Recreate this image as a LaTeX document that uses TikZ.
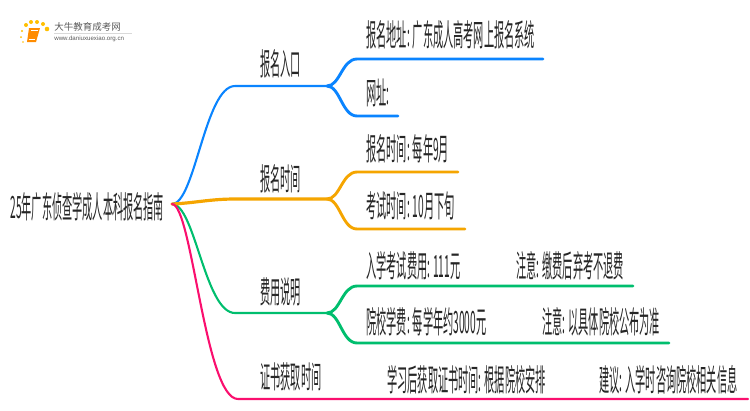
\documentclass[tikz,border=0pt]{standalone}
\usepackage{fontspec}
\usepackage{xcolor}
\usetikzlibrary{positioning, calc}
\newfontfamily\cjknarrow[FakeStretch=0.331]{Noto Sans CJK SC}
\newfontfamily\cjklogo{Noto Sans CJK SC}
\setsansfont{Liberation Sans}
\definecolor{bluebranch}{HTML}{0A84FF}
\definecolor{orangebranch}{HTML}{F5A500}
\definecolor{greenbranch}{HTML}{00BE6E}
\definecolor{pinkbranch}{HTML}{FA0F6E}
\tikzset{
  topic/.style={anchor=west, inner sep=0pt, text=black!85, font=\fontsize{17.5}{18}\cjknarrow},
  branch/.style={line width=2.9*0.5669pt, line cap=round},
  thinbranch/.style={line width=2.1*0.5669pt, line cap=round},
  logotext/.style={anchor=west, inner sep=0pt, text=black!65},
}
\begin{document}
\begin{tikzpicture}[x=0.02cm, y=-0.02cm]
  \useasboundingbox (0,0) rectangle (750,410);

  % Logo
  \foreach \dotx/\doty/\dotr in {26/25/2, 31/22/2, 37/22/2, 43/24/2, 47/29/2.3, 22/31/1.2, 21/37/1, 23/42/0.8}
    \fill[orange!50!yellow] (\dotx,\doty) circle (\dotr);
  \fill[orange!90!yellow] (29,28) -- (40,28) -- (36,42) -- (27,42) -- cycle;
  \draw[white, line width=0.3pt] (31,30) -- (38,30) (28.5,39.5) -- (35,39.5);
  \node[logotext, font=\fontsize{5.4}{6}\cjklogo] (logoname) at (54,27) {大牛教育成考网};
  \node[logotext, font=\fontsize{3.5}{4}\sffamily] (logourl) at (54,38.5) {www.daniuxuexiao.org.cn};
  \draw[black!15, line width=0.3pt] (54,33) -- (132,33);

  % Topics
  \node[topic] (root) at (10,207) {25年广东侦查学成人本科报名指南};
  \node[topic] (entry) at (260,64) {报名入口};
  \node[topic] (signup) at (260,179) {报名时间};
  \node[topic] (fees) at (260,292) {费用说明};
  \node[topic] (cert) at (260,377) {证书获取时间};

  % Leaves
  \node[topic] (entrysys) at (366,35) {报名地址: 广东成人高考网上报名系统};
  \node[topic] (entryurl) at (366,93) {网址:};
  \node[topic] (signupmonth) at (366,149) {报名时间: 每年9月};
  \node[topic] (signupexam) at (366,206) {考试时间: 10月下旬};
  \node[topic] (feeexam) at (366,266) {入学考试费用: 111元};
  \node[topic] (feeexamnote) at (516,266) {注意: 缴费后弃考不退费};
  \node[topic] (feeyear) at (366,322) {院校学费: 每学年约3000元};
  \node[topic] (feeyearnote) at (542,322) {注意: 以具体院校公布为准};
  \node[topic] (certtime) at (387,380) {学习后获取证书时间: 根据院校安排};
  \node[topic] (certnote) at (599,380) {建议: 入学时咨询院校相关信息};

  % Junctions and line ends
  \coordinate (hub) at (172,204);
  \coordinate (entryfork) at (327,86);
  \coordinate (signupfork) at (327,199);
  \coordinate (feesfork) at (327,313);
  \coordinate (entrysysend) at (543,59);
  \coordinate (entryurlend) at (398,116);
  \coordinate (signupmonthend) at (458,172);
  \coordinate (signupexamend) at (465,229);
  \coordinate (feeexamend) at (633,286);
  \coordinate (feeyearend) at (669,343);
  \coordinate (certend) at (748,399);

  % Blue
  \draw[thinbranch, bluebranch] (hub) .. controls (195,204) and (205,86) .. (235,86) -- (entryfork);
  \draw[branch, bluebranch] (entryfork) .. controls (340,86) and (342,59) .. (357,59) -- (entrysysend);
  \draw[branch, bluebranch] (entryfork) .. controls (340,86) and (342,116) .. (357,116) -- (entryurlend);

  % Green
  \draw[thinbranch, greenbranch] (hub) .. controls (195,204) and (205,313) .. (235,313) -- (feesfork);
  \draw[branch, greenbranch] (feesfork) .. controls (340,313) and (342,286) .. (357,286) -- (feeexamend);
  \draw[branch, greenbranch] (feesfork) .. controls (340,313) and (342,343) .. (357,343) -- (feeyearend);

  % Orange
  \draw[branch, orangebranch, line width=3.2*0.5669pt] (hub) .. controls (195,203) and (210,199) .. (235,199) -- (signupfork);
  \draw[branch, orangebranch] (signupfork) .. controls (340,199) and (342,172) .. (357,172) -- (signupmonthend);
  \draw[branch, orangebranch] (signupfork) .. controls (340,199) and (342,229) .. (357,229) -- (signupexamend);

  % Pink
  \draw[thinbranch, pinkbranch] (hub) .. controls (192,204) and (205,399) .. (238,399) -- (certend);
\end{tikzpicture}
\end{document}
